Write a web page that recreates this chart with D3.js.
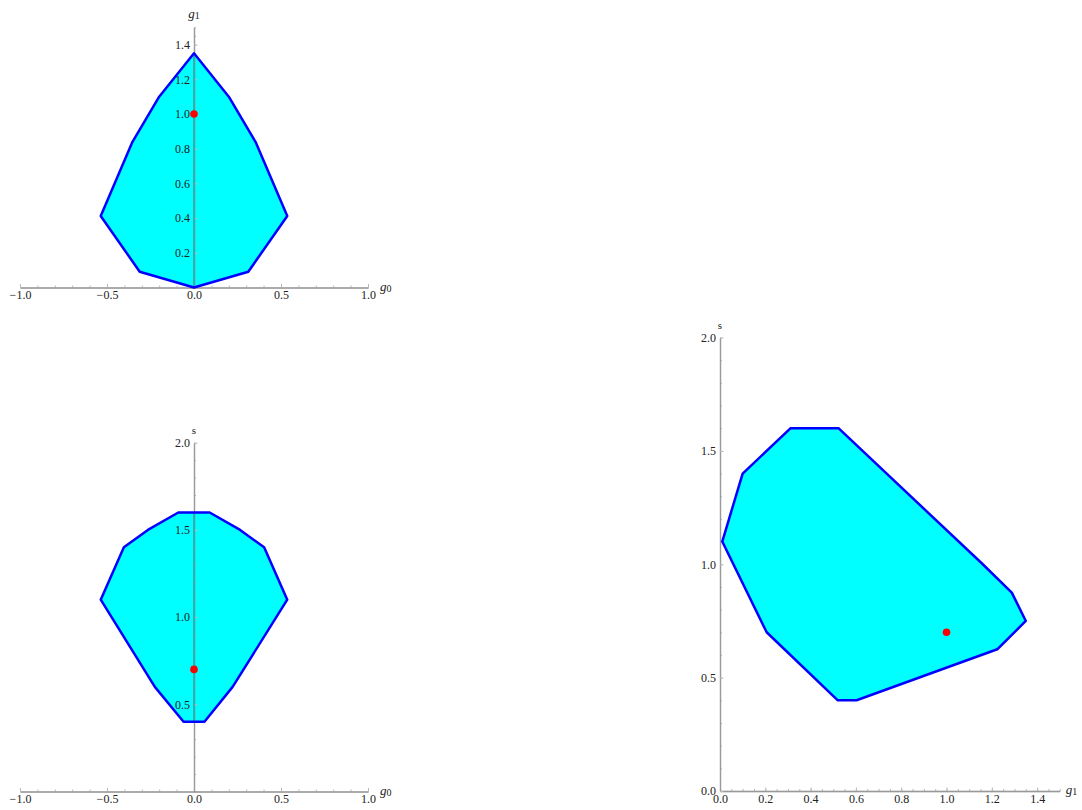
<!DOCTYPE html>
<html>
<head>
<meta charset="utf-8">
<script src="https://cdn.jsdelivr.net/npm/d3@7"></script>
<style>
  body { margin: 0; background: #fff; }
  svg { display: block; }
  .tick text { font-family: "Liberation Serif", "DejaVu Serif", serif; font-size: 12px; fill: #222; }
  .axlabel { font-family: "Liberation Serif", "DejaVu Serif", serif; font-size: 13px; fill: #222; }
</style>
</head>
<body>
<script>
// hull of (g0, g1)
var hullA_g0 = [0, 0.2, 0.356, 0.536, 0.312, 0, -0.312, -0.536, -0.356, -0.2];
var hullA_g1 = [1.35, 1.10, 0.835, 0.412, 0.091, 0, 0.091, 0.412, 0.835, 1.10];
var pointA = [0, 1.0];

// hull of (g0, s)
var hullB_g0 = [-0.09, 0.09, 0.265, 0.403, 0.536, 0.222, 0.06, -0.06, -0.225, -0.536, -0.403, -0.265];
var hullB_s  = [1.6, 1.6, 1.5, 1.4, 1.1, 0.6, 0.4, 0.4, 0.6, 1.1, 1.4, 1.5];
var pointB = [0, 0.7];

// hull of (g1, s)
var hullC_g1 = [0.01, 0.10, 0.312, 0.523, 1.16, 1.288, 1.35, 1.224, 0.603, 0.52, 0.206];
var hullC_s  = [1.10, 1.40, 1.60, 1.60, 1.0, 0.875, 0.75, 0.625, 0.40, 0.40, 0.70];
var pointC = [1.0, 0.7];

// tick labels
var ticksA_x = [-1, -0.5, 0, 0.5, 1];
var ticksA_y = [0.2, 0.4, 0.6, 0.8, 1.0, 1.2, 1.4];
var ticksB_x = [-1, -0.5, 0, 0.5, 1];
var ticksB_y = [0.5, 1.0, 1.5, 2.0];
var ticksC_x = [0, 0.2, 0.4, 0.6, 0.8, 1.0, 1.2, 1.4];
var ticksC_y = [0, 0.5, 1.0, 1.5, 2.0];

var svg = d3.select("body").append("svg")
    .attr("width", 1082)
    .attr("height", 810);
var defs = svg.append("defs");
var nPanel = 0;

function minorTicks(domain, step) {
  return d3.range(Math.ceil(domain[0] / step - 1e-9), Math.floor(domain[1] / step + 1e-9) + 1)
    .map(function(i) { return i * step; });
}

function panel(p) {
  var x = d3.scaleLinear().domain(p.xDomain).range(p.xRange);
  var y = d3.scaleLinear().domain(p.yDomain).range(p.yRange);
  var g = svg.append("g");
  var pts = p.xs.map(function(v, i) { return [x(v), y(p.ys[i])]; });
  var line = d3.line().curve(d3.curveLinearClosed);
  var clipId = "hull" + (nPanel++);

  defs.append("clipPath").attr("id", clipId)
    .append("path").attr("d", line(pts));

  // fill first, axes over it, then outline
  g.append("path")
    .attr("d", line(pts))
    .attr("fill", "#00ffff")
    .attr("stroke", "none");

  var fmt = d3.format(".1f");

  // minor ticks
  g.append("g")
    .attr("transform", "translate(0," + y(0) + ")")
    .call(d3.axisBottom(x).tickValues(minorTicks(p.xDomain, p.xMinor)).tickSizeInner(-2).tickSizeOuter(0).tickFormat(""))
    .call(styleAxis);
  g.append("g")
    .attr("transform", "translate(" + x(0) + ",0)")
    .call(d3.axisLeft(y).tickValues(minorTicks(p.yDomain, p.yMinor)).tickSizeInner(-2).tickSizeOuter(0).tickFormat(""))
    .call(styleAxis);

  // major ticks
  g.append("g")
    .attr("transform", "translate(0," + y(0) + ")")
    .call(d3.axisBottom(x).tickValues(p.xTicks).tickSizeInner(-3.5).tickSizeOuter(0).tickPadding(3).tickFormat(fmt))
    .call(styleAxis);
  g.append("g")
    .attr("transform", "translate(" + x(0) + ",0)")
    .call(d3.axisLeft(y).tickValues(p.yTicks).tickSizeInner(-3.5).tickSizeOuter(0).tickPadding(4).tickFormat(fmt))
    .call(styleAxis);

  // axis seen through the cyan area looks teal
  g.append("line")
    .attr("clip-path", "url(#" + clipId + ")")
    .attr("x1", x(0)).attr("x2", x(0))
    .attr("y1", y(p.yDomain[0])).attr("y2", y(p.yDomain[1]))
    .attr("stroke", "#3aa6a6")
    .attr("stroke-width", 1.6);

  g.append("path")
    .attr("d", line(pts))
    .attr("fill", "none")
    .attr("stroke", "#0000ff")
    .attr("stroke-width", 2.5)
    .attr("stroke-linejoin", "round");

  g.append("circle")
    .attr("cx", x(p.point[0]))
    .attr("cy", y(p.point[1]))
    .attr("r", 3.8)
    .attr("fill", "#ff0000");

  // axis labels
  var xl = g.append("text").attr("class", "axlabel")
    .attr("x", x(p.xDomain[1]) + p.xLabelGap)
    .attr("y", y(0) + 3);
  addLabel(xl, p.xLabel);
  var yl = g.append("text").attr("class", "axlabel")
    .attr("x", x(0))
    .attr("y", y(p.yDomain[1]) - 9)
    .attr("text-anchor", "middle");
  addLabel(yl, p.yLabel);
}

function addLabel(t, lab) {
  if (lab === "s") {
    t.text("s").style("font-size", "11px");
  } else {
    t.append("tspan").style("font-style", "italic").text("g");
    t.append("tspan").style("font-size", "10px").attr("dy", 1).text(lab.slice(1));
  }
}

function styleAxis(sel) {
  sel.select(".domain")
    .attr("stroke", "#808080").attr("stroke-opacity", 0.55).attr("stroke-width", 1.3);
  sel.selectAll(".tick line").attr("stroke", "#b8b8b8");
}

panel({
  xs: hullA_g0, ys: hullA_g1, point: pointA,
  xDomain: [-1, 1], xRange: [20, 368],
  yDomain: [0, 1.5], yRange: [287.5, 27.3],
  xTicks: ticksA_x, yTicks: ticksA_y, xMinor: 0.1, yMinor: 0.05,
  xLabel: "g0", yLabel: "g1", xLabelGap: 12
});

panel({
  xs: hullB_g0, ys: hullB_s, point: pointB,
  xDomain: [-1, 1], xRange: [20, 368],
  yDomain: [0, 2], yRange: [791.5, 442.7],
  xTicks: ticksB_x, yTicks: ticksB_y, xMinor: 0.1, yMinor: 0.1,
  xLabel: "g0", yLabel: "s", xLabelGap: 12
});

panel({
  xs: hullC_g1, ys: hullC_s, point: pointC,
  xDomain: [0, 1.5], xRange: [720, 1059.8],
  yDomain: [0, 2], yRange: [791, 337.5],
  xTicks: ticksC_x, yTicks: ticksC_y, xMinor: 0.05, yMinor: 0.1,
  xLabel: "g1", yLabel: "s", xLabelGap: 6
});
</script>
</body>
</html>
